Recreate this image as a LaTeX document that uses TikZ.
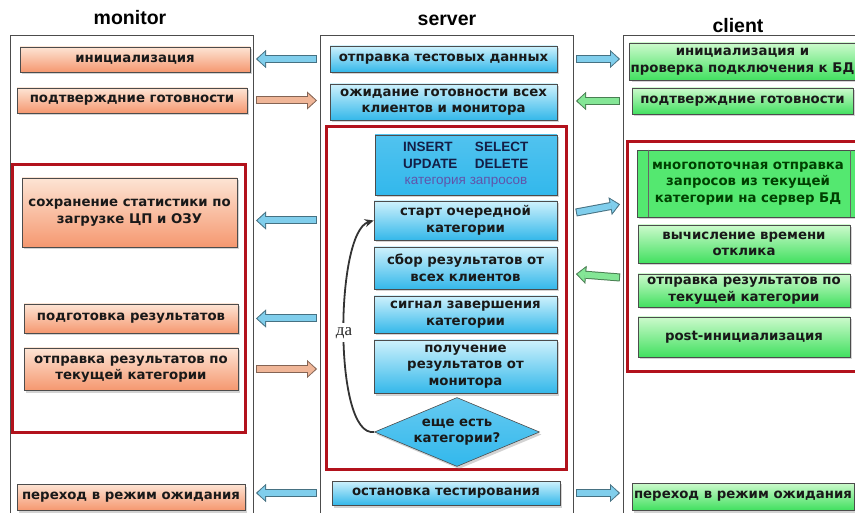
\documentclass[tikz,border=0pt]{standalone}
\usepackage{fontspec}
\newfontfamily\boxfont{DejaVu Sans}
\newfontfamily\headfont{Liberation Sans}
\newfontfamily\yesfont{Liberation Serif}
\usetikzlibrary{shapes.geometric,shadows,arrows.meta,calc}

\definecolor{oTop}{RGB}{253,228,212}
\definecolor{oBot}{RGB}{245,152,112}
\definecolor{bTop}{RGB}{206,241,252}
\definecolor{bBot}{RGB}{52,184,234}
\definecolor{gTop}{RGB}{204,250,204}
\definecolor{gBot}{RGB}{66,224,96}
\definecolor{gFlat}{RGB}{84,232,112}
\definecolor{qBlue}{RGB}{50,184,236}
\definecolor{frameRed}{RGB}{178,18,28}
\definecolor{arrB}{RGB}{128,206,236}
\definecolor{arrO}{RGB}{240,182,152}
\definecolor{arrG}{RGB}{132,230,150}
\definecolor{catText}{RGB}{96,84,170}
\definecolor{navy}{RGB}{20,30,70}

\tikzset{
  lane/.style={draw=black!70, line width=0.8pt, outer sep=3pt},
  head/.style={font=\headfont\bfseries\fontsize{19.5}{21}\selectfont},
  box/.style 2 args={draw=black!70, line width=0.6pt, align=center, inner sep=1pt,
    font=\boxfont\bfseries\fontsize{13.3}{16.5}\selectfont, text=black!90,
    minimum width=#1pt, minimum height=#2pt,
    drop shadow={shadow xshift=2pt, shadow yshift=-2.5pt, opacity=0.35}},
  mon/.style={top color=oTop, bottom color=oBot},
  srv/.style={top color=bTop, bottom color=bBot},
  cli/.style={top color=gTop, bottom color=gBot},
  redframe/.style={draw=frameRed, line width=3pt},
  flow/.style={line width=8pt, draw=#1!55!black,
    -{Triangle[length=10pt,width=18pt,line width=0.4pt]},
    postaction={draw=#1, line width=6pt, shorten <=1pt, shorten >=1.5pt,
      -{Triangle[length=7.5pt,width=13.5pt,line width=0.4pt]}}},
  loopline/.style={draw=black!80, line width=1.8pt, -{Stealth[length=9pt,width=8pt]}}
}
\newcommand\qword[1]{\makebox[54pt][l]{\headfont\bfseries\fontsize{13.5}{17}\selectfont #1}}

\begin{document}
\begin{tikzpicture}[x=1pt,y=-1pt]
\useasboundingbox (0,0) rectangle (855,513);
\clip (0,0) rectangle (855,513);

% lanes
\node[lane, minimum width=243pt, minimum height=490pt] (monLane) at (131.5,280) {};
\node[lane, minimum width=253pt, minimum height=490pt] (srvLane) at (446.5,280) {};
\node[lane, minimum width=247pt, minimum height=490pt] (cliLane) at (746.5,280) {};
\node[head] (monHead) at (130,18) {monitor};
\node[head] (srvHead) at (447,20) {server};
\node[head] (cliHead) at (738,26) {client};

% loops
\draw[redframe] (12,165) rectangle (245,432);
\draw[redframe] (326,127) rectangle (566,469);
\draw[redframe] (627,142) rectangle (870,372);

% monitor
\node[box={230}{25}, mon] (m1) at (135,59.5) {инициализация};
\node[box={230}{25}, mon] (m2) at (132,100.5) {подтверждние готовности};
\node[box={215}{69}, mon] (m3) at (129.5,212.5) {сохранение статистики по\\загрузке ЦП и ОЗУ};
\node[box={214}{29}, mon] (m4) at (131,318.5) {подготовка результатов};
\node[box={214}{42}, mon] (m5) at (131,369) {отправка результатов по\\текущей категории};
\node[box={228}{26}, mon] (m6) at (131,497) {переход в режим ожидания};

% server
\node[box={227}{26}, srv] (s1) at (443.5,59) {отправка тестовых данных};
\node[box={227}{36}, srv] (s2) at (443.5,102) {ожидание готовности всех\\клиентов и монитора};
\node[box={182}{60}, top color=qBlue!85!white, bottom color=qBlue, text=navy] (s3) at (466,165)
  {\qword{INSERT}\hspace{18pt}\qword{SELECT}\\
   \qword{UPDATE}\hspace{18pt}\qword{DELETE}\\
   {\headfont\mdseries\fontsize{13.5}{17}\selectfont\color{catText}категория запросов}};
\node[box={183}{39}, srv] (s4) at (465.5,220.5) {старт очередной\\категории};
\node[box={183}{42}, srv] (s5) at (465.5,268) {сбор результатов от\\всех клиентов};
\node[box={183}{37}, srv] (s6) at (465.5,314.5) {сигнал завершения\\категории};
\node[box={183}{53}, srv] (s7) at (465.5,366.5) {получение\\результатов от\\монитора};
\node[box={165}{69}, diamond, shape aspect=2.4, inner sep=0pt,
  top color=qBlue!75!white, bottom color=qBlue] (s8) at (457,432) {еще есть\\категории?};
\node[box={228}{24}, srv] (s9) at (446,493) {остановка тестирования};

\draw[loopline] (s8.west) .. controls (333,438) and (335,232) .. (s4.west)
  node[pos=0.5, fill=white, inner sep=4pt, text=black!85, font=\yesfont\fontsize{17}{17}\selectfont] {да};

% client
\node[box={221}{37}, cli] (c1) at (742.5,61.5) {инициализация и\\проверка подключения к БД};
\node[box={221}{26}, cli] (c2) at (742.5,101) {подтверждние готовности};
\node[box={222}{67}, fill=gFlat, text=black!75!green] (c3) at (748,183.5)
  {многопоточная отправка\\запросов из текущей\\категории на сервер БД};
\draw[black!60, line width=0.6pt] ($(c3.north west)+(12,0)$) -- ($(c3.south west)+(12,0)$);
\draw[black!60, line width=0.6pt] ($(c3.north east)+(-9,0)$) -- ($(c3.south east)+(-9,0)$);
\node[box={212}{38}, cli] (c4) at (744,244) {вычисление времени\\отклика};
\node[box={212}{33}, cli] (c5) at (744,290.5) {отправка результатов по\\текущей категории};
\node[box={212}{40}, cli] (c6) at (744,337) {post-инициализация};
\node[box={222}{27}, cli] (c7) at (743,496.5) {переход в режим ожидания};

% messages
\draw[flow=arrB] (s1.west -| srvLane.west) -- (s1.west -| monLane.east);
\draw[flow=arrB] (s1.east -| srvLane.east) -- (s1.east -| cliLane.west);
\draw[flow=arrO] (m2.east -| monLane.east) -- (m2.east -| srvLane.west);
\draw[flow=arrG] (c2.west -| cliLane.west) -- (c2.west -| srvLane.east);
\draw[flow=arrB] (s4.west -| srvLane.west) -- (s4.west -| monLane.east);
\draw[flow=arrB] ($(s4.east -| srvLane.east)+(0,-8)$) -- ($(c3.south -| cliLane.west)+(0,-13)$);
\draw[flow=arrG] ($(c5.west -| cliLane.west)+(0,-13)$) -- ($(s5.east -| srvLane.east)+(0,6)$);
\draw[flow=arrB] (m4.east -| srvLane.west) -- (m4.east -| monLane.east);
\draw[flow=arrO] (m5.east -| monLane.east) -- (m5.east -| srvLane.west);
\draw[flow=arrB] (s9.west -| srvLane.west) -- (s9.west -| monLane.east);
\draw[flow=arrB] (s9.east -| srvLane.east) -- (s9.east -| cliLane.west);

\end{tikzpicture}
\end{document}
